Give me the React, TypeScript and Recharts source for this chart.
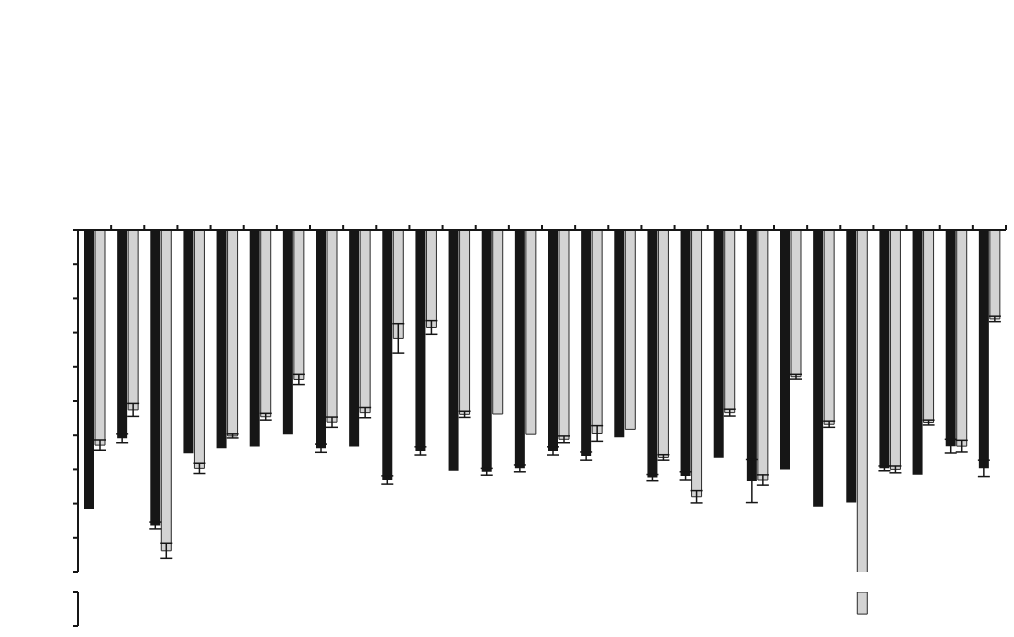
import { BarChart, Bar, XAxis, YAxis, ErrorBar } from 'recharts'

// category labels are blank (white) in the source figure
const categories = [
  '1', '2', '3', '4', '5', '6', '7', '8', '9', '10', '11', '12', '13', '14',
  '15', '16', '17', '18', '19', '20', '21', '22', '23', '24', '25', '26', '27', '28',
]

const blackValues = [
  -81.6, -60.9, -86.4, -65.3, -63.8, -63.3, -59.7, -63.8, -63.3, -73.1, -64.6, -70.4, -70.7, -69.7,
  -64.6, -66.1, -60.6, -72.4, -71.9, -66.6, -73.4, -70.0, -80.9, -79.7, -69.7, -71.6, -63.2, -69.7,
]
const blackErr = [
  0, 1.3, 1.0, 0, 0, 0, 0, 1.2, 0, 1.2, 1.2, 0, 1.0, 1.0,
  1.2, 1.2, 0, 0.9, 1.2, 0, 6.3, 0, 0, 0, 0.7, 0, 2.0, 2.4,
]
const grayValues = [
  -62.9, -52.6, -93.8, -69.7, -60.2, -54.6, -43.7, -56.2, -53.4, -31.7, -28.5, -53.9, -53.8, -59.7,
  -61.2, -59.5, -58.3, -66.5, -78.0, -53.4, -73.1, -42.9, -56.8, -215, -70.0, -56.3, -63.2, -26.0,
]
const grayErr = [
  1.5, 1.9, 2.2, 1.5, 0.6, 1.0, 1.5, 1.5, 1.5, 4.3, 2.0, 0.9, 0, 0,
  1.0, 2.3, 0, 0.8, 1.8, 1.0, 1.5, 0.7, 0.9, 0, 1.0, 0.7, 1.7, 0.8,
]

const mainTicks = [-100, -90, -80, -70, -60, -50, -40, -30, -20, -10, 0]
const breakTicks = [-250, -150]

const mainData = categories.map((name, i) => ({
  name,
  black: blackValues[i],
  blackErr: blackErr[i] || null,
  gray: grayValues[i],
  grayErr: grayErr[i] || null,
}))

// lower panel of the broken axis: only values beyond -100 show up there
const breakData = categories.map((name, i) => ({
  name,
  blackLow: null,
  grayLow: grayValues[i] < -100 ? grayValues[i] : null,
}))

const INK = '#161616'
const GRAY = '#d3d3d3'

const XTick = (props: any) => {
  const { x, y, payload } = props
  const half = payload && payload.offset ? payload.offset : 928 / 28 / 2
  return <line x1={x + half} x2={x + half} y1={y} y2={y - 5} stroke={INK} strokeWidth={2} />
}

const NoLabel = () => <g />

export default function App() {
  return (
    <div style={{ position: 'absolute', left: 0, top: 0, width: 1014, height: 637, background: '#fff' }}>
      <div style={{ position: 'absolute', left: 0, top: 0 }}>
        <BarChart
          width={1014}
          height={637}
          data={mainData}
          margin={{ top: 229, right: 8, bottom: 65, left: 48 }}
          barGap={1}
          barSize={10}
        >
          <XAxis
            dataKey="name"
            orientation="top"
            height={1}
            interval={0}
            axisLine={{ stroke: INK, strokeWidth: 2 }}
            tickLine={false}
            tickSize={0}
            tickMargin={0}
            tick={XTick}
          />
          <YAxis
            type="number"
            domain={[-100, 0]}
            ticks={mainTicks}
            allowDataOverflow
            interval={0}
            width={30}
            axisLine={{ stroke: INK, strokeWidth: 2 }}
            tickLine={{ stroke: INK, strokeWidth: 2 }}
            tickSize={5}
            tick={NoLabel}
          />
          <Bar dataKey="black" fill={INK} isAnimationActive={false}>
            <ErrorBar dataKey="blackErr" direction="y" width={6} stroke={INK} strokeWidth={1.5} />
          </Bar>
          <Bar dataKey="gray" fill={GRAY} stroke="#2a2a2a" strokeWidth={1} isAnimationActive={false}>
            <ErrorBar dataKey="grayErr" direction="y" width={6} stroke={INK} strokeWidth={1.5} />
          </Bar>
        </BarChart>
      </div>
      <div style={{ position: 'absolute', left: 0, top: 560 }}>
        <BarChart
          width={1014}
          height={77}
          data={breakData}
          margin={{ top: 32, right: 8, bottom: 11, left: 48 }}
          barGap={1}
          barSize={10}
        >
          <XAxis dataKey="name" hide />
          <YAxis
            type="number"
            domain={[-250, -150]}
            ticks={breakTicks}
            allowDataOverflow
            interval={0}
            width={30}
            axisLine={{ stroke: INK, strokeWidth: 2 }}
            tickLine={{ stroke: INK, strokeWidth: 2 }}
            tickSize={5}
            tick={NoLabel}
          />
          <Bar dataKey="blackLow" fill={INK} isAnimationActive={false} />
          <Bar dataKey="grayLow" fill={GRAY} stroke="#2a2a2a" strokeWidth={1} isAnimationActive={false} />
        </BarChart>
      </div>
    </div>
  )
}
